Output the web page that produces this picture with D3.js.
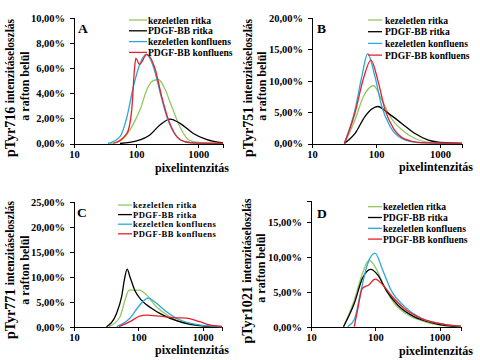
<!DOCTYPE html>
<html>
<head>
<meta charset="utf-8">
<script src="https://cdn.jsdelivr.net/npm/d3@7"></script>
<style>
  html, body { margin: 0; padding: 0; background: #fff; }
  svg { display: block; }
  text { font-family: "Liberation Serif", "Times New Roman", serif; font-weight: bold; fill: #000; }
</style>
</head>
<body>
<svg id="chart" width="480" height="360"></svg>
<script>
// ---------- DATA ----------
const seriesNames = ["kezeletlen ritka", "PDGF-BB ritka", "kezeletlen konfluens", "PDGF-BB konfluens"];
const xTickValues = [10, 100, 1000];
const xTitle = "pixelintenzitás";
const yTitleRest = "intenzitáseloszlás";
const yTitleLine2 = "a rafton belül";
const panelLetters = ["A", "B", "C", "D"];
const panelProteins = ["pTyr716", "pTyr751", "pTyr771", "pTyr1021"];
const yTicksA = [0, 2, 4, 6, 8, 10];
const yTicksB = [0, 5, 10, 15, 20];
const yTicksC = [0, 5, 10, 15, 20, 25];
const yTicksD = [0, 5, 10, 15];

// [pixel intensity, percent]
const A_kezRitka = [[38,0],[55,0.2],[80,1.1],[100,2.0],[116,2.7],[149,4.3],[179,4.95],[229,5.1],[293,4.3],[377,2.9],[510,1.3],[697,0.3],[1000,0.08],[2500,0.02]];
const A_pdgfRitka = [[55,0],[102,0.2],[168,0.7],[244,1.5],[353,1.95],[510,1.6],[834,0.8],[1380,0.3],[2500,0.05]];
const A_kezKonf = [[35,0],[55,0.55],[71,2.1],[90,4.5],[116,6.4],[145,7.1],[190,6.1],[245,4.0],[313,2.1],[453,0.55],[660,0.1],[1000,0.03],[2500,0.01]];
const A_pdgfKonf = [[43,0],[71,0.8],[85,2.7],[94,5.9],[99,6.8],[113,6.3],[149,7.1],[203,5.9],[259,3.7],[331,1.9],[510,0.3],[800,0.05],[2500,0.01]];

const B_kezRitka = [[32,0],[47,3.8],[63,7.4],[91,9.2],[123,7.0],[166,4.3],[252,2.2],[406,0.8],[740,0.15],[2200,0.01]];
const B_pdgfRitka = [[32,0],[47,1.6],[67,4.3],[86,5.5],[106,5.9],[156,4.8],[252,3.2],[406,1.6],[657,0.55],[1200,0.12],[2200,0.02]];
const B_kezKonf = [[32,0],[47,5.4],[60,10.7],[74,14.3],[96,10.7],[123,5.9],[166,2.7],[252,0.8],[453,0.15],[2200,0.01]];
const B_pdgfKonf = [[32,0],[47,4.9],[63,10.2],[83,13.3],[109,9.7],[138,5.4],[187,2.4],[283,0.7],[500,0.15],[2200,0.01]];

const C_kezRitka = [[35,0],[52,2],[62,5.3],[72,7.3],[105,7.3],[126,6.7],[191,4],[308,2],[495,0.8],[700,0.3],[1200,0.1],[2000,0.02]];
const C_pdgfRitka = [[32,0],[46,2.7],[55,6],[62,10],[67,11.5],[74,10],[88,7.3],[112,5.3],[160,3.7],[243,2.3],[390,1.2],[630,0.5],[1100,0.1],[2000,0.02]];
const C_kezKonf = [[46,0],[74,1.7],[105,4.3],[142,5.7],[191,4.7],[274,3],[390,1.7],[630,0.7],[1200,0.15],[2000,0.03]];
const C_pdgfKonf = [[50,0],[74,1],[105,2.1],[134,2.3],[215,2.1],[346,1.8],[560,1.7],[900,1],[1290,0.35],[2000,0.05]];

const D_kezRitka = [[32,0],[47,3.8],[63,7.6],[80,9.5],[103,8.3],[138,5.7],[198,3.3],[320,1.7],[585,0.7],[1100,0.2],[2150,0.03]];
const D_pdgfRitka = [[32,0],[47,3.3],[63,6.9],[85,8.2],[109,7.4],[148,5.2],[223,3.1],[406,1.4],[740,0.6],[1300,0.15],[2150,0.03]];
const D_kezKonf = [[37,0],[47,1],[60,5.2],[76,9],[99,10.5],[130,8.1],[176,5.2],[283,2.9],[517,1.2],[935,0.5],[2150,0.05]];
const D_pdgfKonf = [[47,0],[53,2.4],[63,5.5],[80,6],[99,6.8],[130,6],[176,4.5],[283,2.6],[517,1.2],[1070,0.4],[2150,0.05]];

// ---------- STYLE / LAYOUT ----------
const colors = ["#93c75f", "#000000", "#29a8dc", "#e8202a"];

const panels = [
  { letter: panelLetters[0], protein: panelProteins[0], series: [A_kezRitka, A_pdgfRitka, A_kezKonf, A_pdgfKonf],
    xMax: 2500, yMax: 10, yTicks: yTicksA,
    xr: [74, 223], yr: [143.5, 18], letterPos: [78, 33],
    legend: { x1: 129, x2: 147, tx: 148, y: 20, dy: 10.8, fs: 9.6, ls: 0 },
    xTitlePos: [229, 171.5], yl1: [10, 88], yl2: [25, 86] },
  { letter: panelLetters[1], protein: panelProteins[1], series: [B_kezRitka, B_pdgfRitka, B_kezKonf, B_pdgfKonf],
    xMax: 2200, yMax: 20, yTicks: yTicksB,
    xr: [312, 462], yr: [143.5, 18], letterPos: [317, 33],
    legend: { x1: 368, x2: 382, tx: 385, y: 20, dy: 11.7, fs: 9.6, ls: 0 },
    xTitlePos: [473, 171], yl1: [248, 88], yl2: [262, 86] },
  { letter: panelLetters[2], protein: panelProteins[2], series: [C_kezRitka, C_pdgfRitka, C_kezKonf, C_pdgfKonf],
    xMax: 2000, yMax: 25, yTicks: yTicksC,
    xr: [74, 222], yr: [326.7, 201.7], letterPos: [77, 217],
    legend: { x1: 118, x2: 132, tx: 133, y: 205, dy: 9.6, fs: 8.6, ls: 0.45 },
    xTitlePos: [229, 353.5], yl1: [10, 270], yl2: [25, 270] },
  { letter: panelLetters[3], protein: panelProteins[3], series: [D_kezRitka, D_pdgfRitka, D_kezKonf, D_pdgfKonf],
    xMax: 2150, yMax: 18, yTicks: yTicksD,
    xr: [311, 461], yr: [326.7, 200.7], letterPos: [317, 218],
    legend: { x1: 368, x2: 382, tx: 383, y: 206.7, dy: 10.8, fs: 9.6, ls: 0 },
    xTitlePos: [473, 355], yl1: [247, 271], yl2: [261, 268] }
];

const fmtPct = v => v.toFixed(2).replace(".", ",") + "%";
const svg = d3.select("#chart");

panels.forEach(p => {
  const g = svg.append("g");
  const x = d3.scaleLog().domain([10, p.xMax]).range(p.xr);
  const y = d3.scaleLinear().domain([0, p.yMax]).range(p.yr);

  // y axis
  const ya = g.append("g").attr("transform", `translate(${p.xr[0]},0)`)
    .call(d3.axisLeft(y).tickValues(p.yTicks).tickFormat(fmtPct).tickSizeOuter(0).tickSize(4).tickPadding(5));
  // x axis
  const xa = g.append("g").attr("transform", `translate(0,${p.yr[0]})`)
    .call(d3.axisBottom(x).tickValues(xTickValues).tickFormat(d3.format("d")).tickSizeOuter(0).tickSize(4).tickPadding(3));
  [ya, xa].forEach(a => {
    a.selectAll("path, line").attr("stroke", "#000").attr("stroke-width", 1).attr("shape-rendering", "crispEdges");
    a.selectAll("text").style("font-family", '"Liberation Serif", serif').style("font-weight", "bold")
      .style("font-size", "10.5px").attr("fill", "#000");
  });

  // curves
  const line = d3.line().x(d => x(d[0])).y(d => y(d[1])).curve(d3.curveMonotoneX);
  p.series.forEach((s, i) => {
    g.append("path").datum(s).attr("d", line)
      .attr("fill", "none").attr("stroke", colors[i]).attr("stroke-width", 1.3);
  });

  // legend
  seriesNames.forEach((name, i) => {
    const yy = p.legend.y + i * p.legend.dy;
    g.append("line").attr("x1", p.legend.x1).attr("x2", p.legend.x2).attr("y1", yy).attr("y2", yy)
      .attr("stroke", colors[i]).attr("stroke-width", 1.3);
    g.append("text").attr("x", p.legend.tx).attr("y", yy).attr("dominant-baseline", "central")
      .style("font-size", p.legend.fs + "px").style("letter-spacing", p.legend.ls + "px").text(name);
  });

  // panel letter
  g.append("text").attr("x", p.letterPos[0]).attr("y", p.letterPos[1]).style("font-size", "13.5px").text(p.letter);

  // x title
  g.append("text").attr("x", p.xTitlePos[0]).attr("y", p.xTitlePos[1]).attr("text-anchor", "end")
    .style("font-size", "12px").text(xTitle);

  // y title (two lines)
  const t1 = g.append("text").attr("transform", `translate(${p.yl1[0]},${p.yl1[1]}) rotate(-90)`)
    .attr("text-anchor", "middle").attr("dominant-baseline", "central");
  t1.append("tspan").style("font-size", "14px").text(p.protein + " ");
  t1.append("tspan").style("font-size", "11.5px").text(yTitleRest);
  g.append("text").attr("transform", `translate(${p.yl2[0]},${p.yl2[1]}) rotate(-90)`)
    .attr("text-anchor", "middle").attr("dominant-baseline", "central")
    .style("font-size", "12px").text(yTitleLine2);
});
</script>
</body>
</html>
